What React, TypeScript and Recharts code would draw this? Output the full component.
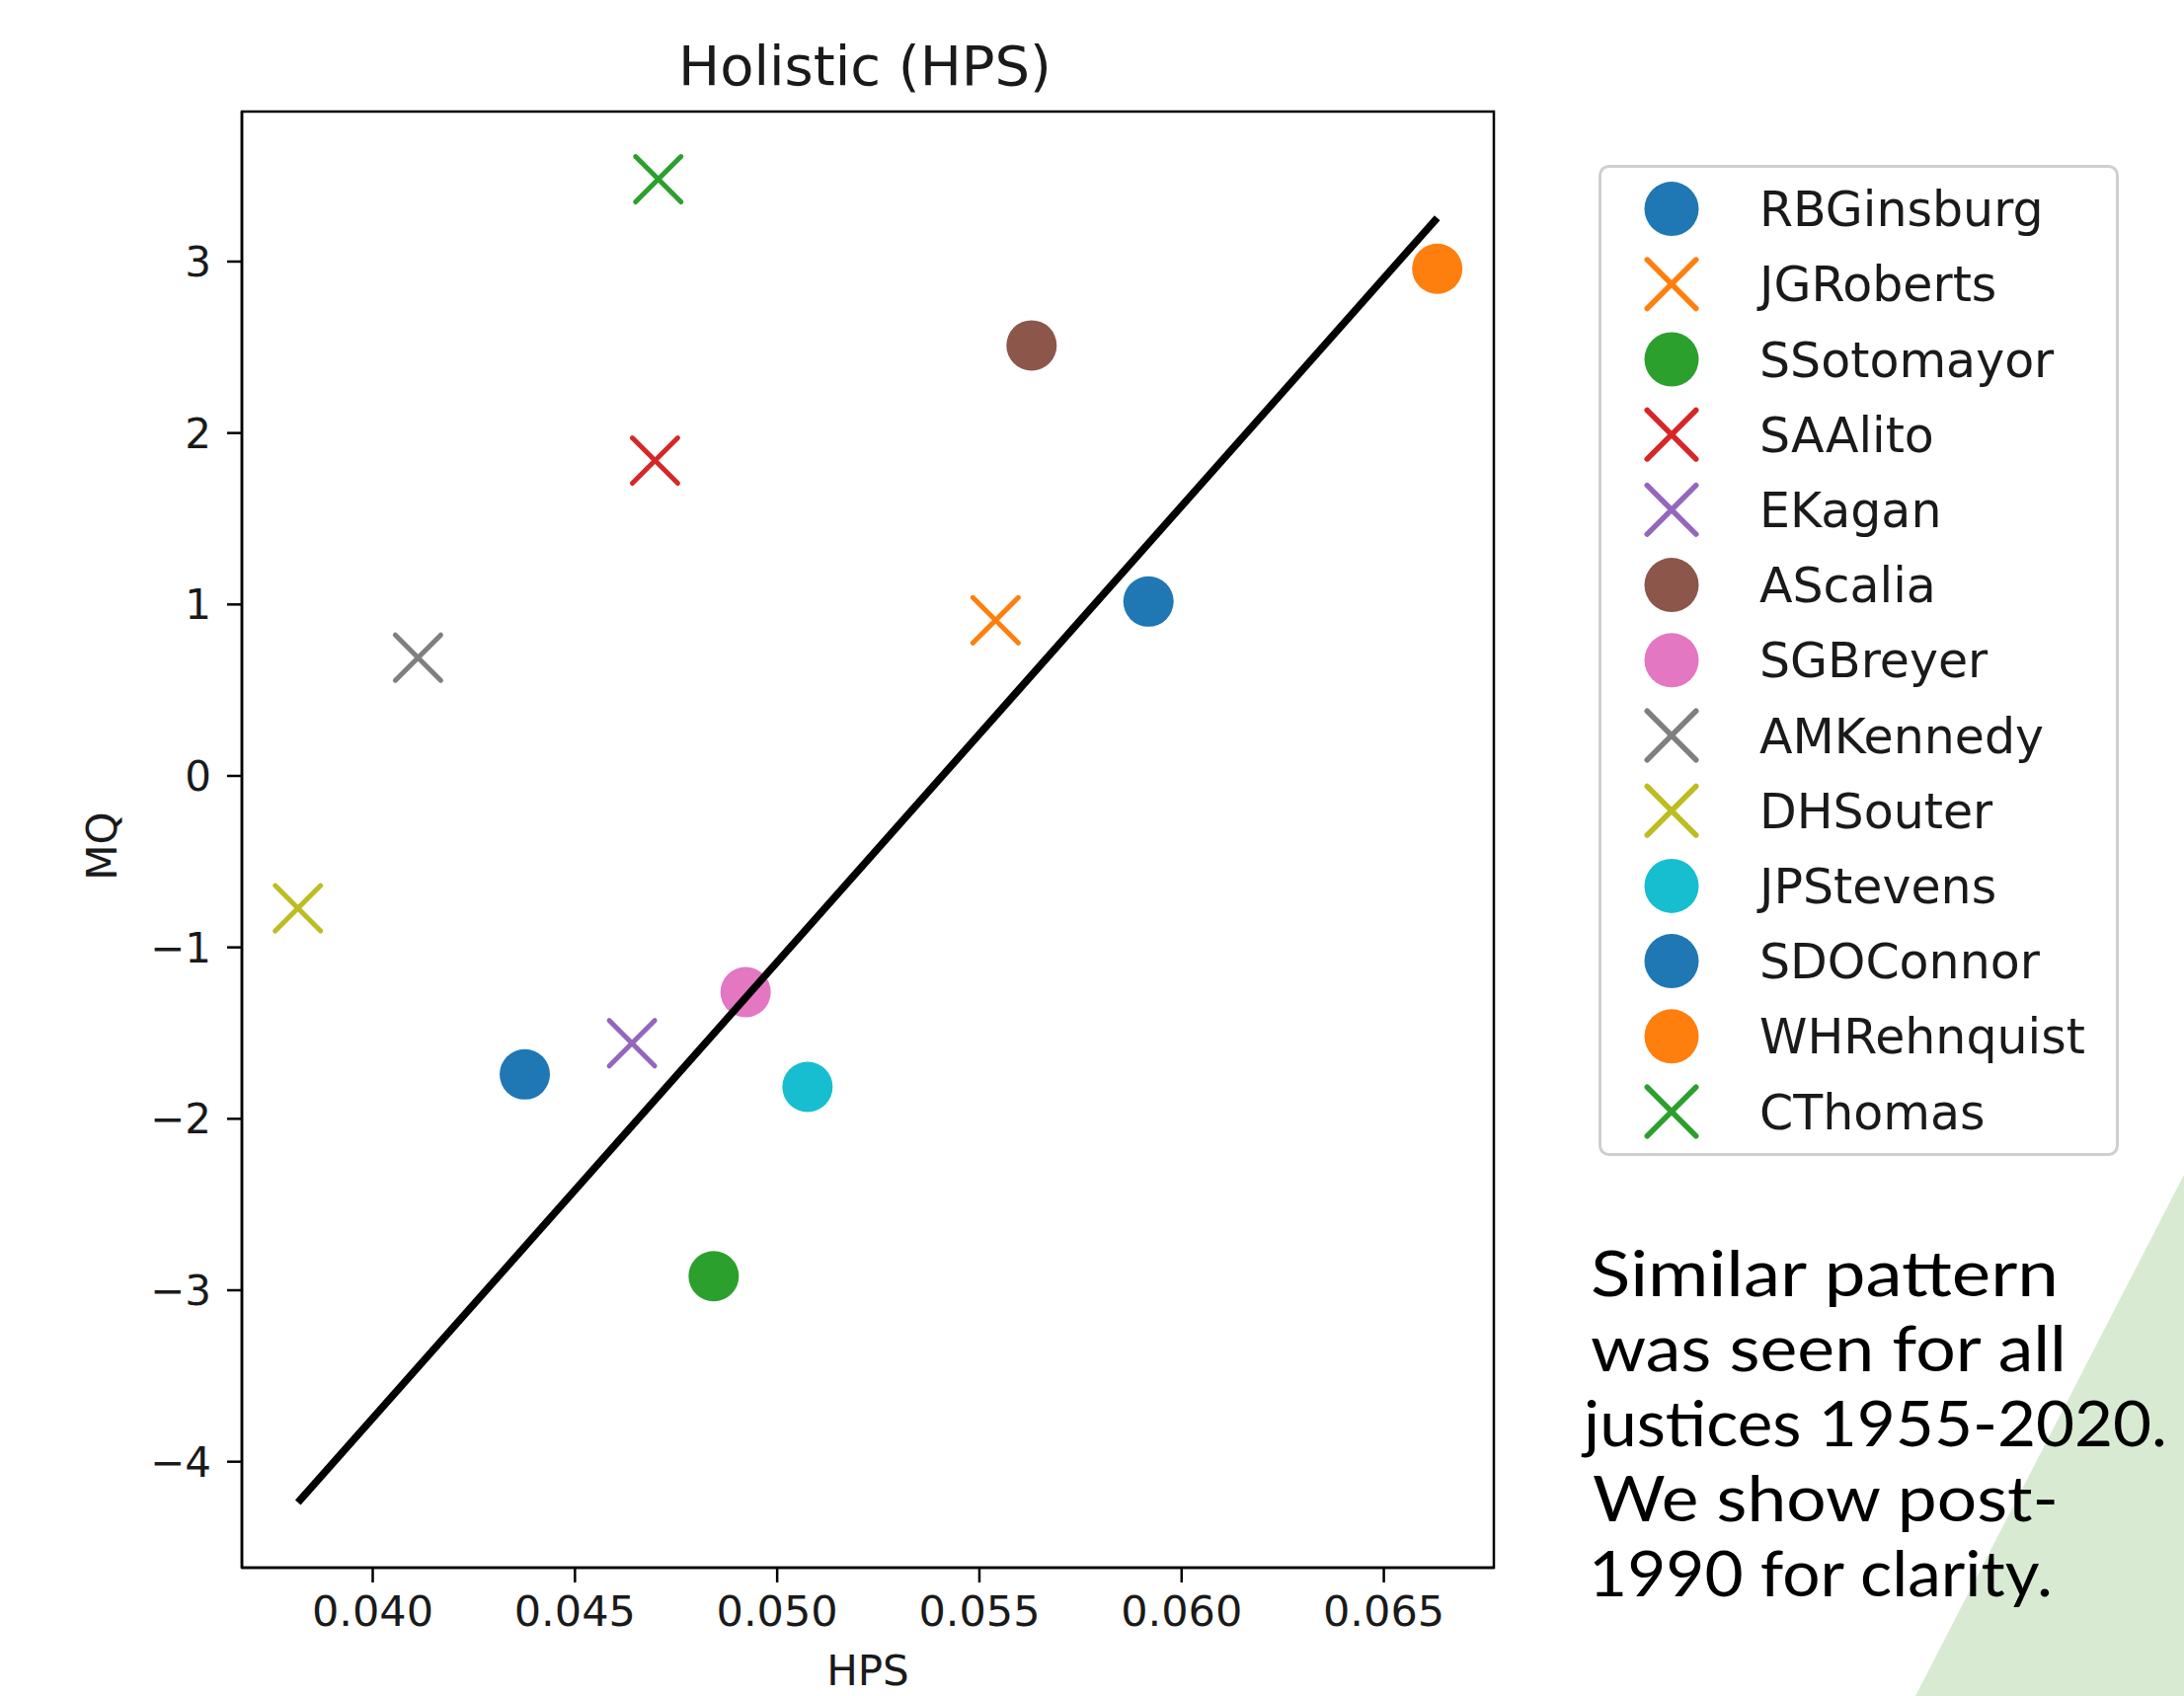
import React from 'react';
import { ScatterChart, Scatter, XAxis, YAxis, ReferenceArea, Legend } from 'recharts';

// ---- data ----
const justices = ['RBGinsburg', 'JGRoberts', 'SSotomayor', 'SAAlito', 'EKagan', 'AScalia', 'SGBreyer', 'AMKennedy', 'DHSouter', 'JPStevens', 'SDOConnor', 'WHRehnquist', 'CThomas'];
const hpsValues = [0.05918, 0.0554, 0.04843, 0.04698, 0.04641, 0.05629, 0.04922, 0.04112, 0.03815, 0.05075, 0.04376, 0.06632, 0.04706];
const mqValues = [1.017, 0.908, -2.918, 1.839, -1.559, 2.511, -1.261, 0.69, -0.772, -1.814, -1.741, 2.958, 3.48];
const markerKinds = ['circle', 'x', 'circle', 'x', 'x', 'circle', 'circle', 'x', 'x', 'circle', 'circle', 'circle', 'x'];
const markerColors = ['#1f77b4', '#ff7f0e', '#2ca02c', '#d62728', '#9467bd', '#8c564b', '#e377c2', '#7f7f7f', '#bcbd22', '#17becf', '#1f77b4', '#ff7f0e', '#2ca02c'];
const fitHps = [0.03815, 0.06632];
const fitMq = [-4.238, 3.255];
const xTicks = [0.04, 0.045, 0.05, 0.055, 0.06, 0.065];
const yTicks = [-4, -3, -2, -1, 0, 1, 2, 3];
const xDomain = [0.036765, 0.06772];
const yDomain = [-4.618, 3.875];
const titleText = 'Holistic (HPS)';
const xLabelText = 'HPS';
const yLabelText = 'MQ';
const noteLines = ['Similar pattern', 'was seen for all', 'justices 1955-2020.', 'We show post-', '1990 for clarity.'];

// ---- styling constants ----
const W = 2212;
const H = 1718;
const FONT = "'DejaVu Sans', sans-serif";
const TEXT = '#1a1a1a';
const noteWidths = [474, 482, 591, 472, 470];
const noteX = [1611, 1611, 1604, 1613, 1609];

const fitData = fitHps.map((x, i) => ({ x, y: fitMq[i] }));

function drawMarker(kind: string, cx: number, cy: number, size: number, color: string, sw: number) {
  if (kind === 'circle') {
    return <circle cx={cx} cy={cy} r={size / 2} fill={color} />;
  }
  const h = size / 2 - sw / 2;
  return (
    <g stroke={color} strokeWidth={sw} strokeLinecap="round" fill="none">
      <line x1={cx - h} y1={cy - h} x2={cx + h} y2={cy + h} />
      <line x1={cx - h} y1={cy + h} x2={cx + h} y2={cy - h} />
    </g>
  );
}

const makeShape = (kind: string, color: string) => (props: any) => {
  const { cx, cy } = props;
  if (cx == null || cy == null) return <g />;
  return drawMarker(kind, cx, cy, 51, color, 5);
};

const LegendBox = () => (
  <svg width={527} height={1004} style={{ display: 'block' }}>
    <rect x={1.5} y={1.5} width={524} height={1001} rx={9} fill="#ffffff" stroke="#cfcfcf" strokeWidth={3} />
    {justices.map((name, i) => {
      const cy = 44.6 + i * 76.2;
      return (
        <g key={name}>
          {drawMarker(markerKinds[i], 74, cy, 55, markerColors[i], 5.5)}
          <text x={163} y={cy + 17.5} fontSize={49} fontFamily={FONT} fill={TEXT}>
            {name}
          </text>
        </g>
      );
    })}
  </svg>
);

const fmtY = (v: number) => (v < 0 ? '\u2212' + Math.abs(v) : String(v));
const fmtX = (v: number) => v.toFixed(3);

export default function App() {
  return (
    <div style={{ position: 'absolute', left: 0, top: 0, width: W, height: H, background: '#ffffff', overflow: 'hidden' }}>
      <svg width={W} height={H} style={{ position: 'absolute', left: 0, top: 0 }}>
        <polygon points={`${W},1190 ${W},${H} 1940,${H}`} fill="#d9ead3" />
      </svg>
      <div style={{ position: 'absolute', left: 0, top: 0 }}>
        <ScatterChart width={W} height={H} margin={{ top: 113, right: 699, bottom: 0, left: 0 }}>
          <XAxis
            type="number"
            dataKey="x"
            domain={xDomain}
            ticks={xTicks}
            allowDataOverflow
            interval={0}
            tickFormatter={fmtX}
            height={130}
            tickSize={15}
            tickMargin={13}
            stroke="#000"
            axisLine={{ stroke: '#000', strokeWidth: 2.5 }}
            tickLine={{ stroke: '#000', strokeWidth: 2.5 }}
            tick={{ fontSize: 43, fill: TEXT, fontFamily: FONT }}
          />
          <YAxis
            type="number"
            dataKey="y"
            domain={yDomain}
            ticks={yTicks}
            allowDataOverflow
            interval={0}
            tickFormatter={fmtY}
            width={245}
            tickSize={15}
            tickMargin={16}
            stroke="#000"
            axisLine={{ stroke: '#000', strokeWidth: 2.5 }}
            tickLine={{ stroke: '#000', strokeWidth: 2.5 }}
            tick={{ fontSize: 42, fill: TEXT, fontFamily: FONT }}
          />
          <ReferenceArea
            x1={xDomain[0]}
            x2={xDomain[1]}
            y1={yDomain[0]}
            y2={yDomain[1]}
            fill="none"
            stroke="#000"
            strokeWidth={2.5}
            fillOpacity={0}
            ifOverflow="visible"
          />
          {justices.map((name, i) => (
            <Scatter
              key={name}
              name={name}
              data={[{ x: hpsValues[i], y: mqValues[i] }]}
              fill={markerColors[i]}
              shape={makeShape(markerKinds[i], markerColors[i])}
              isAnimationActive={false}
            />
          ))}
          <Scatter
            name="fit"
            data={fitData}
            line={{ stroke: '#000', strokeWidth: 7.5 }}
            shape={() => <g />}
            legendType="none"
            isAnimationActive={false}
          />
          <Legend
            layout="vertical"
            align="center"
            verticalAlign="middle"
            content={() => <LegendBox />}
            wrapperStyle={{ left: 1619, top: 167, width: 527, height: 1004, margin: 0 }}
          />
        </ScatterChart>
      </div>
      <svg width={W} height={H} style={{ position: 'absolute', left: 0, top: 0, pointerEvents: 'none' }}>
        <text x={876} y={86} textAnchor="middle" fontSize={56} fontFamily={FONT} fill={TEXT}>
          {titleText}
        </text>
        <text x={879} y={1707} textAnchor="middle" fontSize={42} fontFamily={FONT} fill={TEXT}>
          {xLabelText}
        </text>
        <text
          x={118}
          y={857}
          textAnchor="middle"
          fontSize={42}
          fontFamily={FONT}
          fill={TEXT}
          transform="rotate(-90 118 857)"
        >
          {yLabelText}
        </text>
        {noteLines.map((line, i) => (
          <text
            key={line}
            x={noteX[i]}
            y={1313 + i * 76}
            fontSize={63}
            fontFamily="Lato, 'Open Sans', sans-serif"
            fontWeight={400}
            fill="#000"
            textLength={noteWidths[i]}
            lengthAdjust="spacingAndGlyphs"
          >
            {line}
          </text>
        ))}
      </svg>
    </div>
  );
}
